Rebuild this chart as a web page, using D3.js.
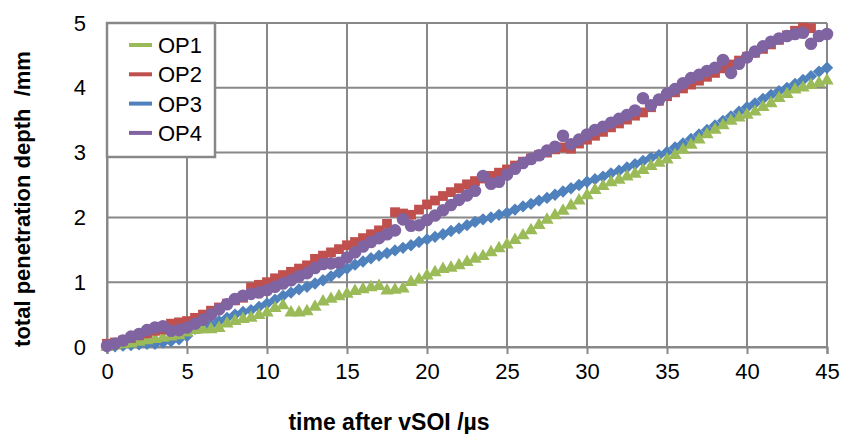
<!DOCTYPE html>
<html>
<head>
<meta charset="utf-8">
<script src="https://cdn.jsdelivr.net/npm/d3@7"></script>
<style>
    body { margin: 0; background: #fff; }
    svg { display: block; font-family: "Liberation Sans", Arial, sans-serif; }
    .grid { stroke: #888; stroke-width: 2; }
    .tick-label { font-size: 22px; fill: #000; }
    .axis-title { font-size: 22px; font-weight: bold; fill: #000; white-space: pre; }
</style>
</head>
<body>
<svg id="chart" width="842" height="434"></svg>
<script>
"use strict";

// time after vSOI /µs
var time = [
    0, 0.5, 1, 1.5, 2, 2.5, 3, 3.5, 4, 4.5, 5, 5.5, 6, 6.5, 7, 7.5, 8, 8.5, 9, 9.5,
    10, 10.5, 11, 11.5, 12, 12.5, 13, 13.5, 14, 14.5, 15, 15.5, 16, 16.5, 17, 17.5, 18, 18.5, 19, 19.5,
    20, 20.5, 21, 21.5, 22, 22.5, 23, 23.5, 24, 24.5, 25, 25.5, 26, 26.5, 27, 27.5, 28, 28.5, 29, 29.5,
    30, 30.5, 31, 31.5, 32, 32.5, 33, 33.5, 34, 34.5, 35, 35.5, 36, 36.5, 37, 37.5, 38, 38.5, 39, 39.5,
    40, 40.5, 41, 41.5, 42, 42.5, 43, 43.5, 44, 44.5, 45
];

// total penetration depth /mm
var op1 = [
    0.00, 0.02, 0.04, 0.05, 0.08, 0.10, 0.12, 0.14, 0.16, 0.18, 0.22, 0.26, 0.27, 0.27, 0.29, 0.36, 0.40, 0.43, 0.45, 0.49,
    0.53, 0.60, 0.64, 0.53, 0.53, 0.55, 0.62, 0.70, 0.74, 0.78, 0.82, 0.86, 0.89, 0.92, 0.94, 0.87, 0.88, 0.90, 1.00, 1.04,
    1.10, 1.15, 1.20, 1.22, 1.26, 1.31, 1.36, 1.40, 1.46, 1.52, 1.58, 1.65, 1.72, 1.80, 1.88, 1.96, 2.03, 2.10, 2.18, 2.26,
    2.34, 2.42, 2.48, 2.54, 2.58, 2.63, 2.67, 2.73, 2.79, 2.84, 2.89, 2.96, 3.04, 3.12, 3.20, 3.28, 3.35, 3.42, 3.49, 3.54,
    3.58, 3.63, 3.70, 3.76, 3.84, 3.90, 3.97, 4.00, 4.04, 4.07, 4.11
];

var op2 = [
    0.05, 0.07, 0.10, 0.14, 0.18, 0.21, 0.25, 0.27, 0.36, 0.38, 0.40, 0.45, 0.50, 0.56, 0.61, 0.67, 0.72, 0.76, 0.92, 0.96,
    1.00, 1.06, 1.11, 1.16, 1.21, 1.26, 1.36, 1.41, 1.46, 1.51, 1.57, 1.62, 1.68, 1.74, 1.80, 1.90, 2.08, 2.06, 2.04, 2.12,
    2.20, 2.26, 2.33, 2.39, 2.45, 2.51, 2.56, 2.60, 2.64, 2.69, 2.74, 2.80, 2.86, 2.91, 2.96, 3.00, 3.05, 3.08, 3.06, 3.14,
    3.20, 3.26, 3.32, 3.39, 3.45, 3.51, 3.57, 3.62, 3.70, 3.80, 3.87, 3.93, 3.99, 4.05, 4.11, 4.17, 4.23, 4.30, 4.36, 4.42,
    4.48, 4.54, 4.60, 4.67, 4.74, 4.81, 4.88, 4.93, 4.92
];

var op3 = [
    0.00, 0.01, 0.02, 0.03, 0.04, 0.05, 0.05, 0.07, 0.09, 0.12, 0.17, 0.28, 0.30, 0.34, 0.40, 0.45, 0.50, 0.54, 0.57, 0.62,
    0.67, 0.73, 0.79, 0.84, 0.89, 0.93, 0.98, 1.03, 1.09, 1.15, 1.21, 1.27, 1.32, 1.37, 1.41, 1.45, 1.49, 1.53, 1.57, 1.62,
    1.66, 1.70, 1.74, 1.79, 1.83, 1.88, 1.93, 1.97, 2.00, 2.04, 2.07, 2.12, 2.17, 2.21, 2.26, 2.30, 2.35, 2.40, 2.45, 2.50,
    2.55, 2.59, 2.63, 2.68, 2.72, 2.77, 2.82, 2.87, 2.92, 2.96, 3.01, 3.08, 3.14, 3.21, 3.28, 3.35, 3.42, 3.49, 3.56, 3.63,
    3.70, 3.76, 3.83, 3.89, 3.95, 4.00, 4.06, 4.12, 4.18, 4.25, 4.31
];

var op4 = [
    0.02, 0.05, 0.10, 0.16, 0.20, 0.26, 0.30, 0.32, 0.25, 0.26, 0.30, 0.36, 0.42, 0.50, 0.58, 0.66, 0.74, 0.79, 0.82, 0.84,
    0.88, 0.93, 0.98, 1.03, 1.09, 1.14, 1.22, 1.28, 1.29, 1.30, 1.38, 1.46, 1.55, 1.62, 1.68, 1.74, 1.80, 1.97, 1.87, 1.88,
    1.96, 2.03, 2.11, 2.19, 2.27, 2.34, 2.41, 2.64, 2.52, 2.55, 2.66, 2.75, 2.84, 2.90, 2.96, 3.03, 3.09, 3.26, 3.13, 3.20,
    3.28, 3.35, 3.40, 3.46, 3.52, 3.58, 3.65, 3.84, 3.73, 3.82, 3.91, 3.98, 4.07, 4.15, 4.20, 4.26, 4.31, 4.43, 4.23, 4.37,
    4.47, 4.56, 4.64, 4.71, 4.76, 4.80, 4.83, 4.85, 4.68, 4.80, 4.83
];

var xTicks = [0, 5, 10, 15, 20, 25, 30, 35, 40, 45];
var yTicks = [0, 1, 2, 3, 4, 5];

var series = [
    { name: "OP1", values: op1, color: "#9bbb59", shape: "triangle" },
    { name: "OP2", values: op2, color: "#c0504d", shape: "square" },
    { name: "OP3", values: op3, color: "#4f81bd", shape: "diamond" },
    { name: "OP4", values: op4, color: "#8064a2", shape: "circle" }
];

// drawing order as in the original: OP3 under OP1, OP4 on top
var drawOrder = [2, 0, 1, 3];

var svg = d3.select("#chart");

var x = d3.scaleLinear().domain([0, 45]).range([107, 827]);
var y = d3.scaleLinear().domain([0, 5]).range([347, 23]);

//
// grid
//

var grid = svg.append("g");
grid.selectAll("line.h")
    .data(yTicks)
    .enter().append("line")
    .attr("class", "grid h")
    .attr("x1", x(0)).attr("x2", x(45))
    .attr("y1", function (d) { return y(d); })
    .attr("y2", function (d) { return y(d); });

grid.selectAll("line.v")
    .data(xTicks)
    .enter().append("line")
    .attr("class", "grid v")
    .attr("x1", function (d) { return x(d); })
    .attr("x2", function (d) { return x(d); })
    .attr("y1", y(5)).attr("y2", y(0));

// axes
var xAxis = svg.append("g")
    .attr("transform", "translate(0," + y(0) + ")")
    .call(d3.axisBottom(x).tickValues(xTicks).tickFormat(d3.format("d"))
        .tickSize(7).tickPadding(9));

var yAxis = svg.append("g")
    .attr("transform", "translate(" + x(0) + ",0)")
    .call(d3.axisLeft(y).tickValues(yTicks).tickFormat(d3.format("d"))
        .tickSize(0).tickPadding(21));

[xAxis, yAxis].forEach(function (ax) {
    ax.attr("font-size", null).attr("font-family", null);
    ax.select(".domain").attr("stroke", "#888").attr("stroke-width", 2);
    ax.selectAll(".tick line").attr("stroke", "#888").attr("stroke-width", 2);
    ax.selectAll(".tick text").attr("class", "tick-label");
});

//
// markers
//

var symbols = {
    triangle: d3.symbol().type(d3.symbolTriangle).size(76),
    square: d3.symbol().type(d3.symbolSquare).size(96),
    diamond: d3.symbol().type(d3.symbolSquare).size(76),
    circle: d3.symbol().type(d3.symbolCircle).size(124)
};

drawOrder.forEach(function (i) {
    var s = series[i];
    var pts = s.values.map(function (v, k) { return { t: time[k], v: v }; });
    svg.append("g")
        .selectAll("path")
        .data(pts)
        .enter().append("path")
        .attr("d", symbols[s.shape]())
        .attr("fill", s.color)
        .attr("transform", function (d) {
            var tr = "translate(" + x(d.t) + "," + y(d.v) + ")";
            return s.shape === "diamond" ? tr + " rotate(45)" : tr;
        });
});

//
// legend
//

var legend = svg.append("g");
legend.append("rect")
    .attr("x", 107).attr("y", 23)
    .attr("width", 108).attr("height", 134)
    .attr("fill", "#fff")
    .attr("stroke", "#888")
    .attr("stroke-width", 2.5);

var item = legend.selectAll("g.item")
    .data(series)
    .enter().append("g")
    .attr("transform", function (d, i) { return "translate(0," + (45 + i * 29.3) + ")"; });

item.append("line")
    .attr("x1", 129).attr("x2", 152)
    .attr("y1", 0).attr("y2", 0)
    .attr("stroke", function (d) { return d.color; })
    .attr("stroke-width", 4);

item.append("text")
    .attr("class", "tick-label")
    .attr("x", 158)
    .attr("y", 8)
    .text(function (d) { return d.name; });

//
// axis titles
//

svg.append("text")
    .attr("class", "axis-title")
    .attr("x", 389)
    .attr("y", 430)
    .attr("text-anchor", "middle")
    .style("font-size", "23px")
    .text("time after vSOI /µs");

svg.append("text")
    .attr("class", "axis-title")
    .attr("transform", "translate(30,199) rotate(-90)")
    .attr("text-anchor", "middle")
    .text("total penetration depth  /mm");
</script>
</body>
</html>
